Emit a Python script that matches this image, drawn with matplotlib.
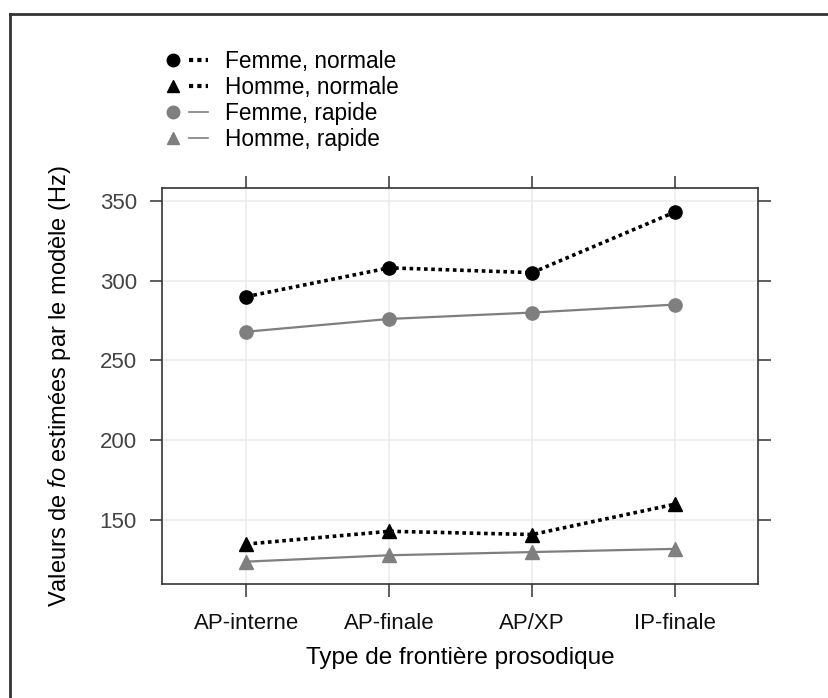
import matplotlib
matplotlib.use('Agg')
import matplotlib.pyplot as plt
from matplotlib.lines import Line2D
from matplotlib.legend_handler import HandlerTuple


# values (Hz)
categories = ['AP-interne', 'AP-finale', 'AP/XP', 'IP-finale']
femme_normale = [290, 308, 305, 343]
homme_normale = [135, 143, 141, 160]
femme_rapide = [268, 276, 280, 285]
homme_rapide = [124, 128, 130, 132]
y_ticks = [150, 200, 250, 300, 350]

BLACK = 'black'
GREY = '#7f7f7f'

plt.rcParams['font.family'] = ['Liberation Sans', 'DejaVu Sans']
plt.rcParams['mathtext.fontset'] = 'custom'
plt.rcParams['mathtext.rm'] = 'Liberation Sans'
plt.rcParams['mathtext.it'] = 'Liberation Sans:italic'

fig = plt.figure(figsize=(8.29, 6.98), dpi=100, facecolor='white')
ax = fig.add_axes([162 / 829, 1 - 584 / 698, (758 - 162) / 829, (584 - 188) / 698])

x = list(range(len(categories)))
dotted = (0, (1, 1))

ax.plot(x, femme_rapide, color=GREY, lw=1.6, marker='o', ms=9.5, mec=GREY, zorder=3)
ax.plot(x, homme_rapide, color=GREY, lw=1.6, marker='^', ms=10.5, mec=GREY, zorder=3)
ax.plot(x, femme_normale, color=BLACK, lw=2.6, ls=dotted, marker='o', ms=9.5, zorder=4)
ax.plot(x, homme_normale, color=BLACK, lw=2.6, ls=dotted, marker='^', ms=10.5, zorder=4)

ax.set_xlim(-0.59, 3.58)
ax.set_ylim(110, 358)
ax.set_xticks(x)
ax.set_xticklabels(categories)
ax.set_yticks(y_ticks)
ax.grid(True, color='#ebebeb', lw=1.1, zorder=0)
ax.set_axisbelow(True)

ax.tick_params(direction='out', length=9, width=1.1, color='#333333',
               top=True, right=True, labeltop=False, labelright=False)
ax.tick_params(axis='x', labelsize=16, labelcolor='#111111', pad=12)
ax.tick_params(axis='y', labelsize=16, labelcolor='#444444', pad=9)
for s in ax.spines.values():
    s.set_color('#333333')
    s.set_linewidth(1.2)

ax.set_xlabel('Type de frontière prosodique', fontsize=17.5, labelpad=9)
ax.set_ylabel('Valeurs de $\\mathit{fo}$ estimées par le modèle (Hz)', fontsize=17, labelpad=19)

# legend: marker then short line
def mk(marker, color):
    return Line2D([], [], color=color, marker=marker, ls='none', ms=9)

def ln(color, style, lw):
    return Line2D([], [], color=color, ls=style, lw=lw)

handles = [
    (mk('o', BLACK), ln(BLACK, dotted, 3)),
    (mk('^', BLACK), ln(BLACK, dotted, 3)),
    (mk('o', GREY), ln(GREY, '-', 1.2)),
    (mk('^', GREY), ln(GREY, '-', 1.2)),
]
labels = ['Femme, normale', 'Homme, normale', 'Femme, rapide', 'Homme, rapide']
fig.legend(handles, labels, handler_map={tuple: HandlerTuple(ndivide=None, pad=0.3)},
           loc='upper left', bbox_to_anchor=(163 / 829, 1 - 50 / 698), frameon=False,
           fontsize=16.3, handlelength=2.0, handletextpad=0.75, labelspacing=0.13,
           borderpad=0, borderaxespad=0)

# outer frame (left and top edges only visible)
fig.add_artist(Line2D([10 / 829, 10 / 829], [0, 1 - 14 / 698], transform=fig.transFigure,
                      color='#333333', lw=2))
fig.add_artist(Line2D([10 / 829, 1], [1 - 14 / 698, 1 - 14 / 698], transform=fig.transFigure,
                      color='#333333', lw=2))

fig.savefig('out.png', dpi=100)
